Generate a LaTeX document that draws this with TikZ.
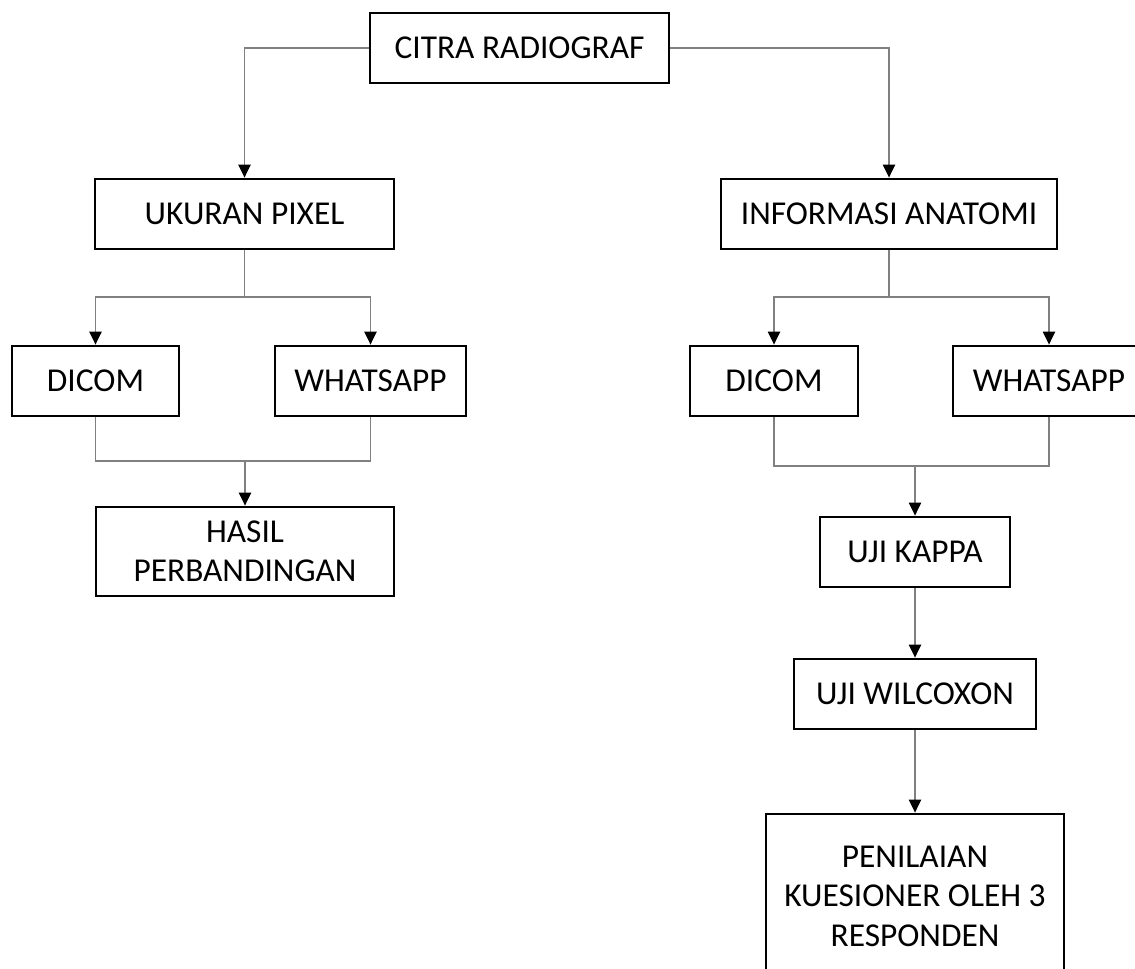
\documentclass[tikz,border=0pt]{standalone}
\usepackage{fontspec}
\setmainfont{Carlito}
\usetikzlibrary{arrows.meta}

\begin{document}
\begin{tikzpicture}
  [x=0.02cm,y=-0.02cm,
   every node/.style={draw=black,line width=1.6pt,rectangle,inner sep=0pt,align=center,
     font=\fontsize{19}{22.5}\selectfont},
   sz/.style 2 args={minimum width=#1*0.02cm,minimum height=#2*0.02cm},
   link/.style={black!50,line width=0.8pt},
   arr/.style={link,-{Triangle[length=7.4pt,width=7pt,black]}}]
  \path[use as bounding box,clip] (0,0) rectangle (1135,969);
  \node[sz={299}{70}] (citra) at (519.5,48) {CITRA RADIOGRAF};
  \node[sz={299}{70}] (ukuran) at (244.5,214) {UKURAN PIXEL};
  \node[sz={336}{70}] (informasi) at (889,214) {INFORMASI ANATOMI};
  \node[sz={167}{70}] (dicomL) at (95.5,381) {DICOM};
  \node[sz={191}{70}] (whatsL) at (370.5,381) {WHATSAPP};
  \node[sz={168}{70}] (dicomR) at (774,381) {DICOM};
  \node[sz={192}{70}] (whatsR) at (1049,381) {WHATSAPP};
  \node[sz={298}{89}] (hasil) at (245,551.5) {HASIL\\PERBANDINGAN};
  \node[sz={190}{70}] (kappa) at (915,552) {UJI KAPPA};
  \node[sz={242}{70}] (wilcoxon) at (915,694) {UJI WILCOXON};
  \node[sz={298}{164}] (penilaian) at (915,896) {PENILAIAN\\KUESIONER OLEH 3\\RESPONDEN};
  \coordinate (splitL) at (244.5,297);
  \coordinate (joinL) at (245,461);
  \coordinate (splitR) at (889,297);
  \coordinate (joinR) at (915,466);
\foreach \from/\to in
{citra.west/ukuran.north, citra.east/informasi.north, splitL/dicomL.north,
 splitL/whatsL.north, splitR/dicomR.north, splitR/whatsR.north}
    \draw[arr] (\from) -| (\to);
\foreach \from/\to in
{ukuran.south/splitL, informasi.south/splitR}
    \draw[link] (\from) -- (\to);
\foreach \from/\to in
{dicomL.south/joinL, whatsL.south/joinL, dicomR.south/joinR, whatsR.south/joinR}
    \draw[link] (\from) |- (\to);
\foreach \from/\to in
{joinL/hasil.north, joinR/kappa.north, kappa.south/wilcoxon.north, wilcoxon.south/penilaian.north}
    \draw[arr] (\from) -- (\to);
\end{tikzpicture}
\end{document}
